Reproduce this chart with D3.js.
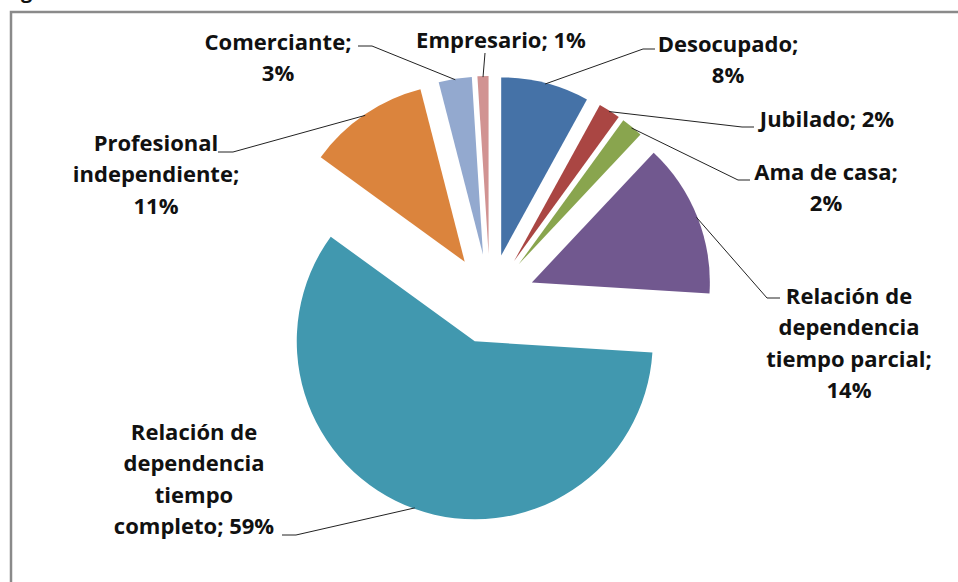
<!DOCTYPE html>
<html>
<head>
<meta charset="utf-8">
<script src="https://cdn.jsdelivr.net/npm/d3@7"></script>
<style>
  body { margin: 0; background: #fff; }
  svg { display: block; }
  .lbl { font-family: "Open Sans", Lato, sans-serif; font-weight: bold; fill: #111; }
</style>
</head>
<body>
<svg id="chart"></svg>
<script>
// data, clockwise from 12 o'clock
const categories = ['Desocupado', 'Jubilado', 'Ama de casa',
  'Relación de dependencia tiempo parcial', 'Relación de dependencia tiempo completo',
  'Profesional independiente', 'Comerciante', 'Empresario'];
const values = [8, 2, 2, 14, 59, 11, 3, 1];
const colors = ['#4572A7', '#AA4643', '#89A54E', '#71588F', '#4198AF', '#DB843D', '#93A9CF', '#D19392'];
const labelText = [
  'Desocupado;\n8%',
  'Jubilado; 2%',
  'Ama de casa;\n2%',
  'Relación de\ndependencia\ntiempo parcial;\n14%',
  'Relación de\ndependencia\ntiempo\ncompleto; 59%',
  'Profesional\nindependiente;\n11%',
  'Comerciante;\n3%',
  'Empresario; 1%'
];

// label placement (centre x, first line y) and leader elbow, as Excel put them
const labelLayout = [
  {x: 728, y: 44, elbow: [[643, 49], [655, 49]]},
  {x: 827, y: 119, elbow: [[742, 127], [754, 127]]},
  {x: 826, y: 172, elbow: [[738, 180], [750, 180]]},
  {x: 849, y: 296, elbow: [[767, 298], [780, 298]]},
  {x: 194, y: 432, elbow: [[296, 535], [282, 535]]},
  {x: 156, y: 143, elbow: [[233, 152], [218, 152]]},
  {x: 278, y: 42, elbow: [[372, 46], [358, 46]]},
  {x: 501, y: 40, elbow: [[485, 53]]}
];

const width = 958, height = 582;
const cx = 490, cy = 299, radius = 178, explode = 45;
const lineGap = 31.5;

const svg = d3.select('#chart').attr('width', width).attr('height', height);

// chart frame (only top and left edges fall inside the crop)
svg.append('path')
    .attr('d', `M11,${height + 2}V12H${width + 2}`)
    .attr('fill', 'none')
    .attr('stroke', '#8a8a8a')
    .attr('stroke-width', 2.5);

// caption cut off at the top
svg.append('text')
    .attr('class', 'lbl')
    .attr('x', 4)
    .attr('y', -2)
    .style('font-size', '20px')
    .text('Figura');

const pie = d3.pie().sort(null).value(d => d);
const arc = d3.arc().innerRadius(0).outerRadius(radius);
const arcs = pie(values);

const offset = a => {
  const m = (a.startAngle + a.endAngle) / 2;
  return [explode * Math.sin(m), -explode * Math.cos(m)];
};

const g = svg.append('g').attr('transform', `translate(${cx},${cy})`);

g.selectAll('path.slice')
  .data(arcs)
  .join('path')
    .attr('class', 'slice')
    .attr('d', arc)
    .attr('fill', (d, i) => colors[i])
    .attr('transform', d => `translate(${offset(d)})`);

// leader lines from the middle of each slice's rim
const line = d3.line();
svg.selectAll('path.leader')
  .data(arcs)
  .join('path')
    .attr('class', 'leader')
    .attr('fill', 'none')
    .attr('stroke', '#222')
    .attr('stroke-width', 1)
    .attr('d', (d, i) => {
      const m = (d.startAngle + d.endAngle) / 2;
      const o = offset(d);
      const rim = [cx + o[0] + (radius - 1) * Math.sin(m), cy + o[1] - (radius - 1) * Math.cos(m)];
      const pts = [rim].concat(labelLayout[i].elbow);
      return line(pts);
    });

const labels = svg.selectAll('text.data-label')
  .data(arcs)
  .join('text')
    .attr('class', 'lbl data-label')
    .attr('text-anchor', 'middle')
    .style('font-size', '22px');

labels.each(function(d, i) {
  const lay = labelLayout[i];
  d3.select(this).selectAll('tspan')
    .data(labelText[i].split('\n'))
    .join('tspan')
      .attr('x', lay.x)
      .attr('y', (s, k) => lay.y + k * lineGap)
      .attr('dy', '0.35em')
      .text(s => s);
});
</script>
</body>
</html>
